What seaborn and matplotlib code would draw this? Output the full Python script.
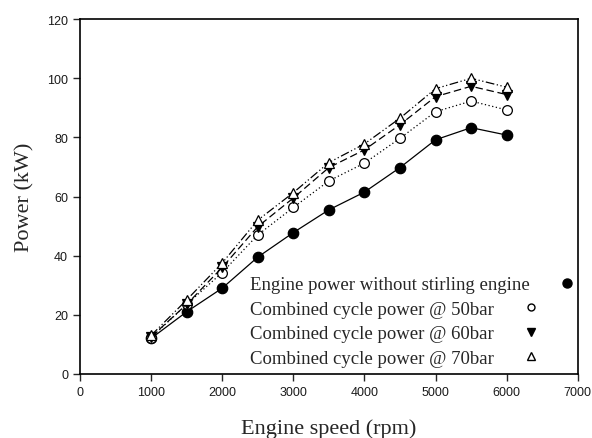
import pandas as pd
import numpy as np
import seaborn as sns
import matplotlib.pyplot as plt
from matplotlib.lines import Line2D

sns.set_style("ticks")

# Values
speed = [1000, 1500, 2000, 2500, 3000, 3500, 4000, 4500, 5000, 5500, 6000]
engine_only = [12, 21, 29, 39.5, 47.8, 55.5, 61.5, 69.8, 79.2, 83.3, 80.8]
combined_50 = [12.3, 23.5, 34.3, 47, 56.3, 65.3, 71.3, 79.7, 88.7, 92.3, 89.3]
combined_60 = [12.5, 23.5, 36, 49.8, 59.5, 69.8, 75.8, 84.3, 93.8, 97.3, 94.5]
combined_70 = [13, 25, 37.5, 52, 61.3, 71.5, 77.8, 86.5, 96.5, 100, 97]

labels = ["Engine power without stirling engine",
          "Combined cycle power @ 50bar",
          "Combined cycle power @ 60bar",
          "Combined cycle power @ 70bar"]

frames = []
for lab, vals in zip(labels, [engine_only, combined_50, combined_60, combined_70]):
    frames.append(pd.DataFrame({"speed": speed, "power": vals, "series": lab}))
df = pd.concat(frames, ignore_index=True)

styles = {
    labels[0]: dict(marker="o", mfc="black", ls="-", ms=7.5),
    labels[1]: dict(marker="o", mfc="white", ls=(0, (1, 2)), ms=7),
    labels[2]: dict(marker="v", mfc="black", ls=(0, (6, 3)), ms=7.5),
    labels[3]: dict(marker="^", mfc="white", ls=(0, (7, 2, 1, 2, 1, 2)), ms=7.5),
}

fig = plt.figure(figsize=(5.92, 4.39), dpi=100)
ax = fig.add_axes([0.135, 0.146, 0.841, 0.808])

for lab in labels:
    st = styles[lab]
    sub = df[df["series"] == lab]
    sns.lineplot(data=sub, x="speed", y="power", ax=ax, color="black",
                 linewidth=0.9, linestyle=st["ls"], marker=st["marker"],
                 markersize=st["ms"], markerfacecolor=st["mfc"],
                 markeredgecolor="black", markeredgewidth=0.9, legend=False)

ax.set_xlim(0, 7000)
ax.set_ylim(0, 120)
ax.set_xticks(np.arange(0, 7001, 1000))
ax.set_yticks(np.arange(0, 121, 20))
for sp in ax.spines.values():
    sp.set_linewidth(1.2)
    sp.set_color("black")
ax.tick_params(direction="out", length=5, width=1, labelsize=9, pad=3.5,
               labelcolor="#1a1a1a")
for t in ax.get_xticklabels() + ax.get_yticklabels():
    t.set_fontfamily("Liberation Sans")

ax.set_xlabel("Engine speed (rpm)", fontfamily="Liberation Serif", fontsize=16, labelpad=15)
ax.set_ylabel("Power (kW)", fontfamily="Liberation Serif", fontsize=16, labelpad=9)

handles = [
    Line2D([], [], ls="none", marker="o", mfc="black", mec="black", ms=6.5),
    Line2D([], [], ls="none", marker="o", mfc="white", mec="black", ms=5),
    Line2D([], [], ls="none", marker="v", mfc="black", mec="black", ms=5.5),
    Line2D([], [], ls="none", marker="^", mfc="white", mec="black", ms=5.5),
]
leg = ax.legend(handles, labels, loc="upper left", bbox_to_anchor=(0.342, 0.275),
                frameon=False, markerfirst=False, handlelength=1, handletextpad=1.45,
                labelspacing=0.39, borderpad=0, borderaxespad=0,
                prop={"family": "Liberation Serif", "size": 13.5})
# left-align rows (text then marker), like the original legend
for col in leg._legend_handle_box.get_children():
    col.align = "left"

fig.savefig("out.png", dpi=100)
